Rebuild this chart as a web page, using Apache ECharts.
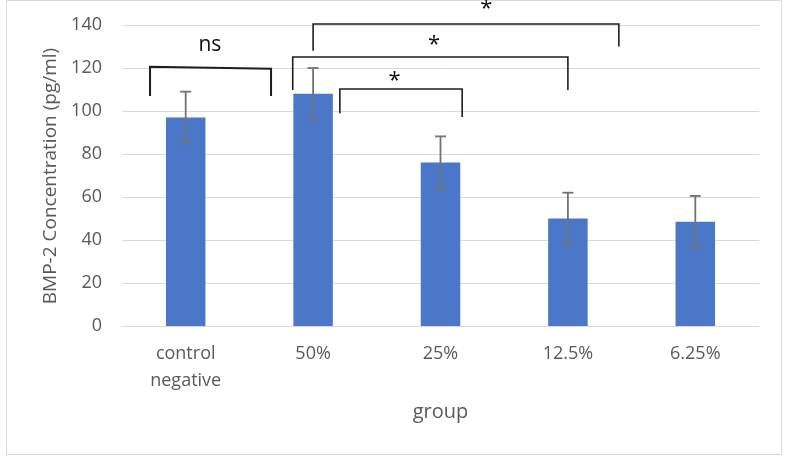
<!DOCTYPE html>
<html>
<head>
<meta charset="utf-8">
<script src="https://cdn.jsdelivr.net/npm/echarts@6/dist/echarts.min.js"></script>
<style>html,body{margin:0;padding:0;background:#fff}#c{width:787px;height:459px}</style>
</head>
<body>
<div id="c"></div>
<script>
// ---- data ----
const categories = ['control\nnegative', '50%', '25%', '12.5%', '6.25%'];
const means = [97, 108, 76, 50, 48.5];
const errors = [12, 12, 12.2, 12, 12];
const yMin = 0, yMax = 140, yStep = 20;
// significance brackets (category index units, data y)
const bracketXLeft  = [-0.28, 1.0, 0.84, 1.21];
const bracketXRight = [0.67, 3.4, 3.0, 2.17];
const bracketTopL   = [120.6, 140.5, 125.1, 110.2];
const bracketTopR   = [119.7, 140.5, 125.1, 110.2];
const bracketLegL   = [107, 128, 109.8, 99];
const bracketLegR   = [107, 130, 109.8, 97.2];
const bracketWidth  = [2, 1.6, 1.6, 1.6];
const sigLabels = ['ns', '*', '*', '*'];
const sigX = [0.19, 2.36, 1.95, 1.64];
const sigY = [130.7, 150, 133, 116.3];

const FONT = '"Open Sans", sans-serif';
const chart = echarts.init(document.getElementById('c'));

const errData = means.map((m, i) => [i, m - errors[i], m + errors[i]]);
const bracketData = bracketXLeft.map((x, i) => [x, bracketXRight[i], bracketTopL[i], bracketTopR[i], bracketLegL[i], bracketLegR[i], bracketWidth[i]]);
const labelData = sigLabels.map((t, i) => [sigX[i], sigY[i], t]);

chart.setOption({
  animation: false,
  backgroundColor: '#fff',
  graphic: [{
    type: 'rect', shape: {x: 6.5, y: 0.5, width: 775, height: 454},
    style: {fill: 'none', stroke: '#d9d9d9', lineWidth: 1}, z: -10
  }, {
    type: 'text', x: 51, y: 176, rotation: Math.PI / 2,
    style: {text: 'BMP-2 Concentration (pg/ml)', fontFamily: FONT, fontSize: 19, fill: '#595959',
      align: 'center', verticalAlign: 'middle'}
  }],
  grid: {left: 122, right: 28, top: 25, bottom: 133},
  xAxis: [{
    type: 'category', data: categories,
    axisLine: {lineStyle: {color: '#d9d9d9', width: 1}},
    axisTick: {show: false},
    axisLabel: {color: '#595959', fontFamily: FONT, fontSize: 18, lineHeight: 27, margin: 14},
    name: 'group', nameLocation: 'middle', nameGap: 76,
    nameTextStyle: {color: '#595959', fontFamily: FONT, fontSize: 20}
  }, {
    type: 'value', min: -0.5, max: 4.5, show: false
  }],
  yAxis: {
    type: 'value', min: yMin, max: yMax, interval: yStep,
    axisLine: {show: false}, axisTick: {show: false},
    splitLine: {lineStyle: {color: '#d9d9d9', width: 1}},
    axisLabel: {color: '#595959', fontFamily: FONT, fontSize: 18, margin: 20}
  },
  series: [{
    type: 'bar', data: means, barWidth: '31%',
    itemStyle: {color: '#4a77c7'}, z: 2
  }, {
    type: 'custom', data: errData, z: 3,
    renderItem: function (params, api) {
      const x = api.value(0);
      const lo = api.coord([x, api.value(1)]);
      const hi = api.coord([x, api.value(2)]);
      const w = 5.5;
      const st = {stroke: '#737373', lineWidth: 1.8};
      return {type: 'group', children: [
        {type: 'line', shape: {x1: lo[0], y1: lo[1], x2: hi[0], y2: hi[1]}, style: st},
        {type: 'line', shape: {x1: lo[0] - w, y1: lo[1], x2: lo[0] + w, y2: lo[1]}, style: st},
        {type: 'line', shape: {x1: hi[0] - w, y1: hi[1], x2: hi[0] + w, y2: hi[1]}, style: st}
      ]};
    }
  }, {
    type: 'custom', xAxisIndex: 1, data: bracketData, z: 4, clip: false,
    renderItem: function (params, api) {
      const p1 = api.coord([api.value(0), api.value(4)]);
      const p2 = api.coord([api.value(0), api.value(2)]);
      const p3 = api.coord([api.value(1), api.value(3)]);
      const p4 = api.coord([api.value(1), api.value(5)]);
      return {type: 'polyline', shape: {points: [p1, p2, p3, p4]},
        style: {stroke: '#1e1e1e', lineWidth: api.value(6), fill: 'none'}};
    }
  }, {
    type: 'custom', xAxisIndex: 1, data: labelData, z: 5, clip: false,
    renderItem: function (params, api) {
      const p = api.coord([api.value(0), api.value(1)]);
      const t = labelData[params.dataIndex][2];
      const isStar = t === '*';
      return {type: 'text', x: p[0], y: p[1] + (isStar ? 5 : 0),
        style: {text: t, fontFamily: FONT, fontSize: isStar ? 22 : 21, fill: '#111',
          align: 'center', verticalAlign: 'middle',
          backgroundColor: isStar ? 'transparent' : '#fff',
          padding: isStar ? 0 : [14, 18, 2, 18]}};
    }
  }]
});
</script>
</body>
</html>
